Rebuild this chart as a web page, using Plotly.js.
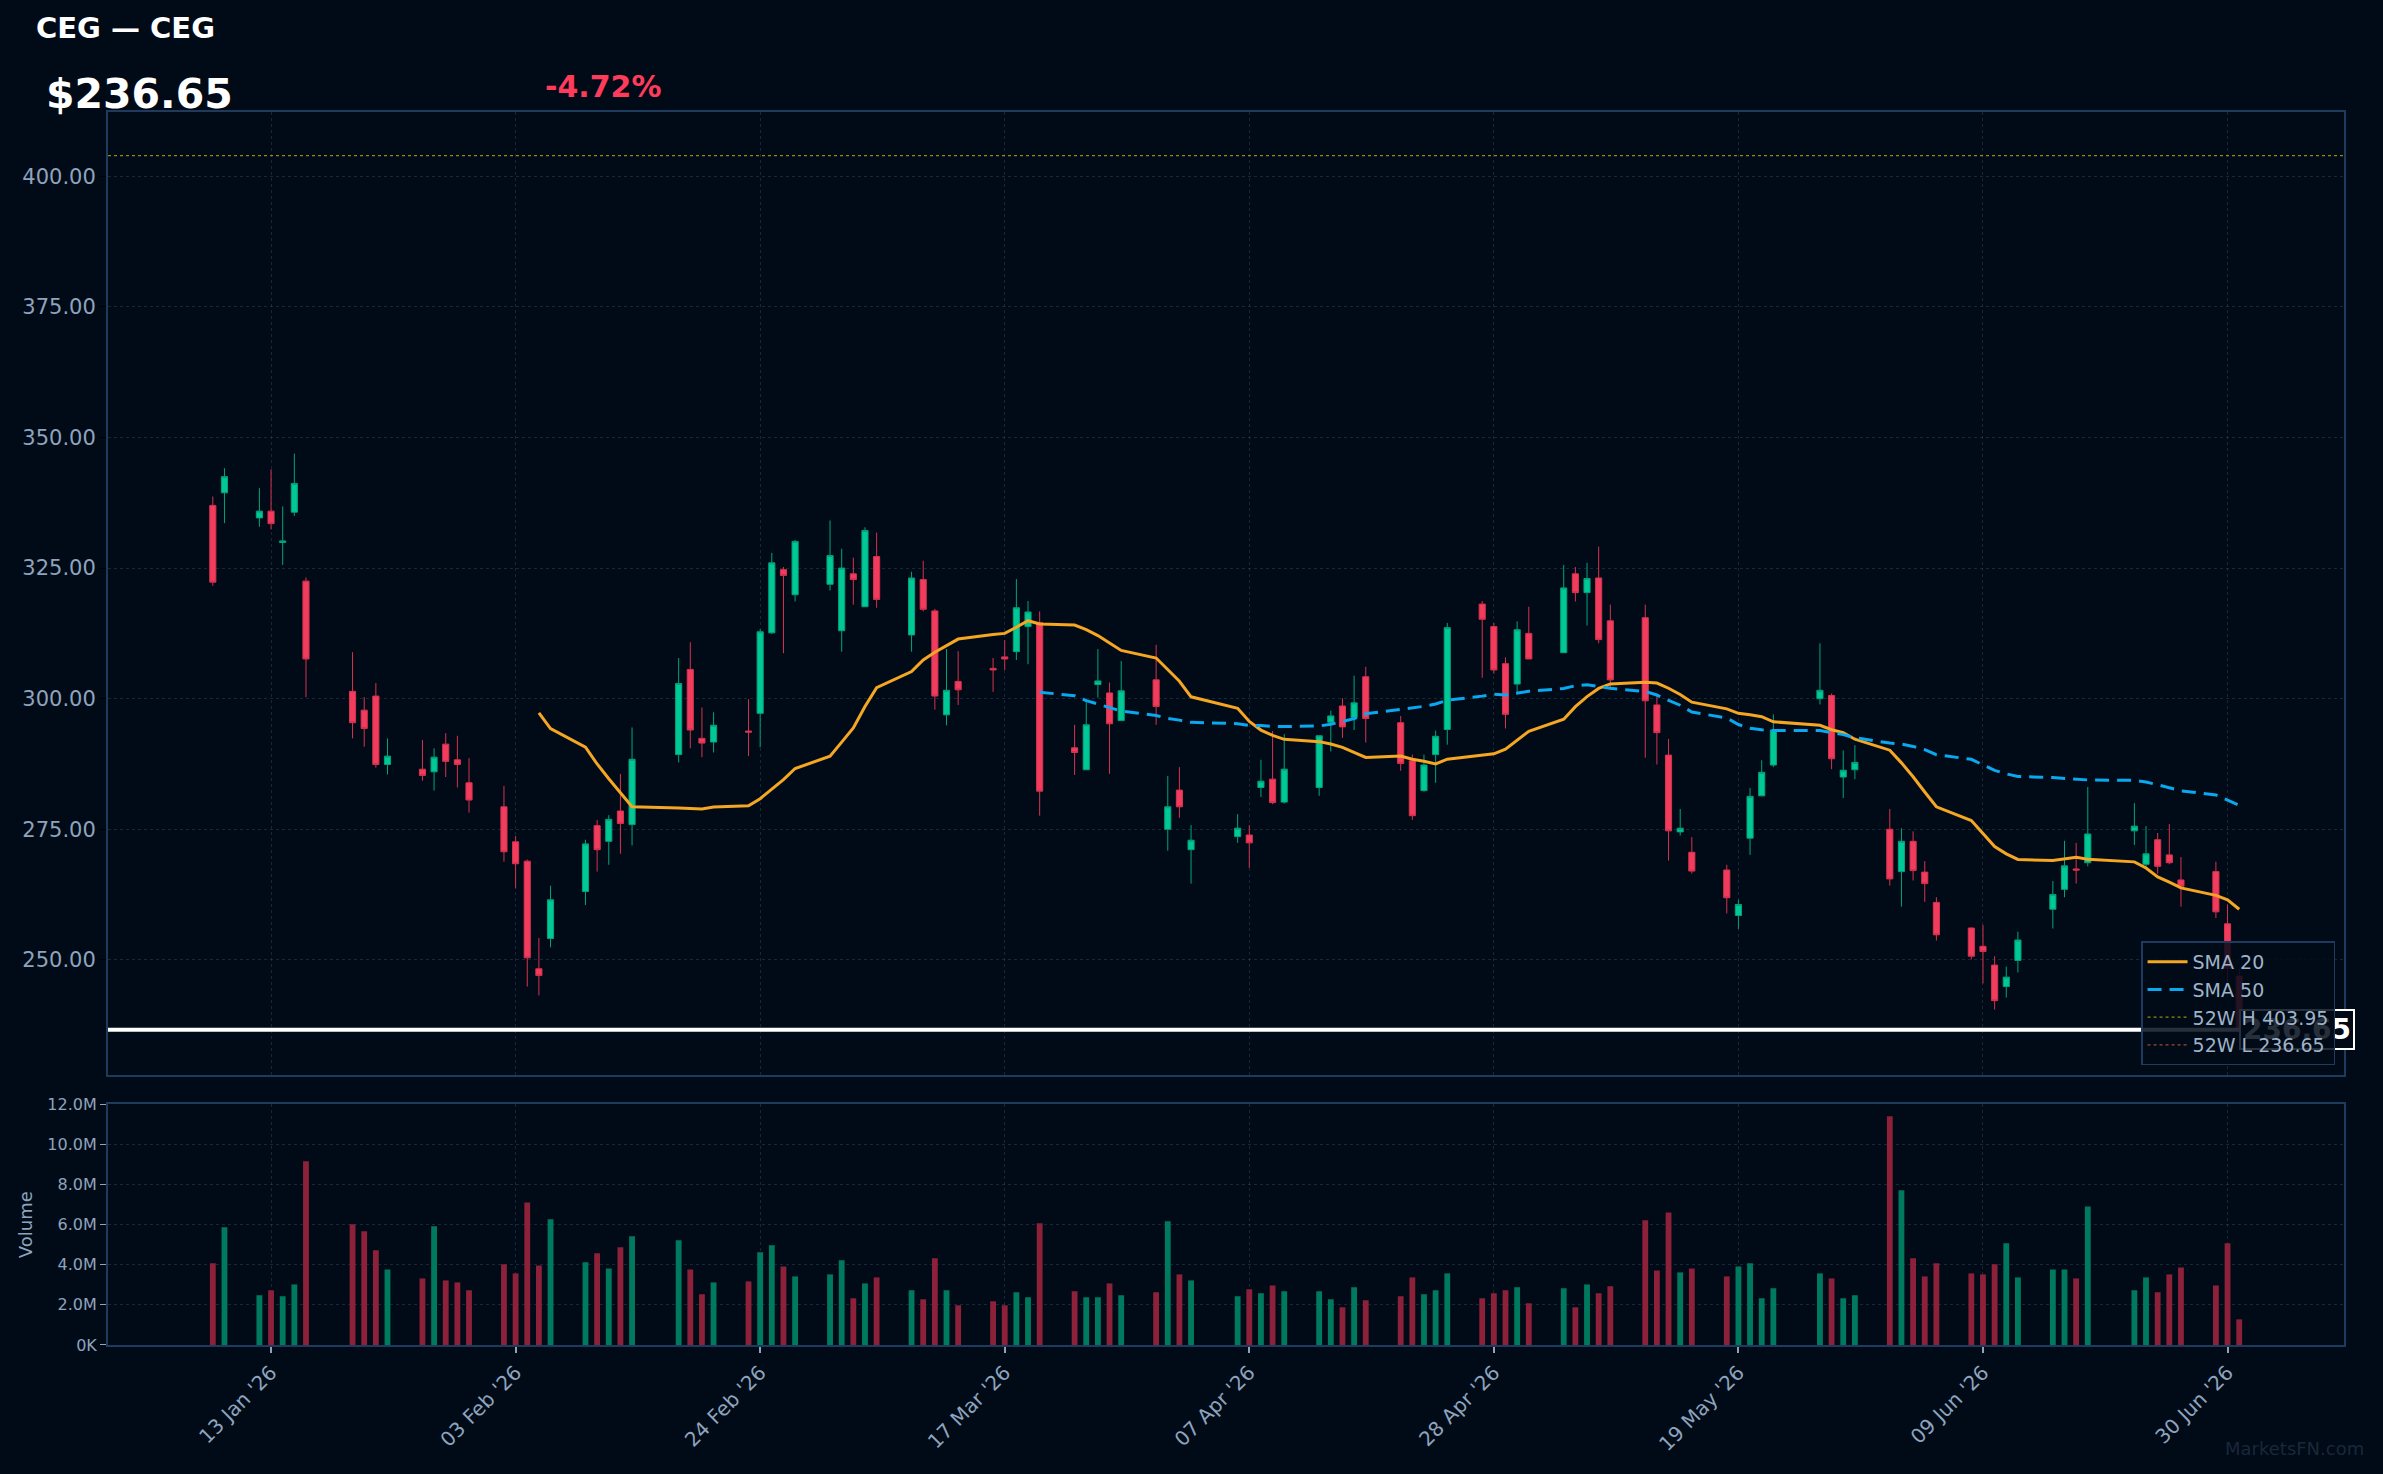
<!DOCTYPE html>
<html><head><meta charset="utf-8">
<script src="https://cdn.plot.ly/plotly-3.0.1.min.js"></script>
<style>html,body{margin:0;padding:0;background:#010b17;}#chart{width:2383px;height:1474px;}</style>
</head><body><div id="chart"></div>
<script>
const dates = [
"2026-01-08","2026-01-09","2026-01-12","2026-01-13","2026-01-14","2026-01-15","2026-01-16","2026-01-20","2026-01-21","2026-01-22","2026-01-23","2026-01-26","2026-01-27","2026-01-28","2026-01-29","2026-01-30",
"2026-02-02","2026-02-03","2026-02-04","2026-02-05","2026-02-06","2026-02-09","2026-02-10","2026-02-11","2026-02-12","2026-02-13","2026-02-17","2026-02-18","2026-02-19","2026-02-20","2026-02-23","2026-02-24","2026-02-25","2026-02-26","2026-02-27",
"2026-03-02","2026-03-03","2026-03-04","2026-03-05","2026-03-06","2026-03-09","2026-03-10","2026-03-11","2026-03-12","2026-03-13","2026-03-16","2026-03-17","2026-03-18","2026-03-19","2026-03-20","2026-03-23","2026-03-24","2026-03-25","2026-03-26","2026-03-27","2026-03-30","2026-03-31",
"2026-04-01","2026-04-02","2026-04-06","2026-04-07","2026-04-08","2026-04-09","2026-04-10","2026-04-13","2026-04-14","2026-04-15","2026-04-16","2026-04-17","2026-04-20","2026-04-21","2026-04-22","2026-04-23","2026-04-24","2026-04-27","2026-04-28","2026-04-29","2026-04-30",
"2026-05-01","2026-05-04","2026-05-05","2026-05-06","2026-05-07","2026-05-08","2026-05-11","2026-05-12","2026-05-13","2026-05-14","2026-05-15","2026-05-18","2026-05-19","2026-05-20","2026-05-21","2026-05-22","2026-05-26","2026-05-27","2026-05-28","2026-05-29",
"2026-06-01","2026-06-02","2026-06-03","2026-06-04","2026-06-05","2026-06-08","2026-06-09","2026-06-10","2026-06-11","2026-06-12","2026-06-15","2026-06-16","2026-06-17","2026-06-18","2026-06-22","2026-06-23","2026-06-24","2026-06-25","2026-06-26","2026-06-29","2026-06-30",
"2026-07-01"];

const opens = [
337.0,339.4,334.6,335.9,329.9,335.7,322.5,301.4,297.8,300.5,287.4,286.5,286.0,291.3,288.3,283.9,
279.3,272.6,268.9,248.3,254.1,263.1,275.7,272.7,278.5,275.9,289.3,305.6,292.4,291.7,293.8,297.2,312.6,324.7,319.9,
321.9,313.0,323.9,317.6,327.2,312.2,322.8,316.8,296.9,303.3,305.8,308.0,309.0,313.8,314.6,290.6,286.4,302.7,301.1,295.8,303.6,275.0,
282.5,271.1,273.6,273.9,283.0,284.6,280.2,283.0,295.5,298.6,296.4,304.2,295.4,288.1,282.4,289.3,294.1,318.1,313.8,306.7,302.8,
312.5,308.8,323.9,320.3,323.1,314.9,315.5,298.8,289.2,274.5,270.6,267.2,258.5,273.3,281.4,287.3,300.0,300.6,285.0,286.4,
275.0,266.9,272.7,266.8,261.0,256.1,252.6,249.0,244.9,249.9,259.7,263.5,267.4,268.6,274.7,268.3,273.0,270.1,265.3,266.9,256.9,
246.9];

const highs = [
338.7,344.1,340.3,343.9,336.8,346.9,323.2,308.9,300.3,303.0,292.4,292.1,290.5,293.4,292.9,288.6,
283.3,273.7,269.2,254.2,264.2,273.0,276.8,277.7,285.6,294.5,307.8,310.8,298.3,297.4,299.9,313.3,327.9,325.2,330.4,
334.1,328.7,327.0,332.8,331.8,324.3,326.4,317.2,309.5,309.1,307.8,311.2,322.9,318.7,316.7,295.0,299.7,309.5,303.1,307.2,310.3,285.2,
286.9,275.8,277.9,275.8,288.3,293.8,293.2,292.9,297.7,300.1,304.4,306.1,296.7,289.3,289.3,293.9,314.5,318.7,314.5,307.9,314.8,
317.6,325.6,325.2,326.0,329.1,318.0,318.0,300.6,292.3,278.9,273.5,268.2,261.5,282.9,288.2,297.0,310.6,301.0,290.1,291.1,
278.9,275.2,274.6,268.9,262.0,256.2,256.7,250.7,248.7,255.4,265.1,272.8,272.4,283.1,280.0,275.6,274.3,276.0,269.7,268.8,260.6,
248.3];

const lows = [
321.6,333.6,332.9,332.4,325.6,335.0,300.3,292.4,290.8,286.8,285.5,284.3,282.4,285.0,283.0,278.2,
268.8,263.7,244.9,243.2,252.4,260.5,266.9,268.2,270.3,271.9,287.8,290.5,288.8,289.7,289.0,290.7,312.4,308.7,318.6,
320.7,309.0,318.0,317.6,317.4,309.0,316.7,297.9,294.9,298.8,301.3,305.5,307.4,306.6,277.6,285.4,286.4,300.2,285.6,295.8,295.0,270.9,
277.2,264.6,272.4,267.6,281.2,279.8,279.9,281.4,289.9,292.5,294.0,291.6,286.2,276.8,282.2,283.9,291.2,304.0,304.8,294.3,300.8,
307.6,308.8,318.6,314.0,310.6,301.7,288.7,287.4,269.0,273.8,266.5,258.9,255.9,270.1,281.4,286.9,298.9,286.5,281.0,284.6,
264.2,260.2,265.2,261.1,253.7,250.1,245.5,240.5,242.8,247.6,256.0,262.0,264.6,267.9,272.0,267.7,266.5,268.3,260.2,258.0,245.6,
236.65];

const closes = [
322.3,342.5,335.9,333.5,330.2,341.2,307.6,295.4,294.3,287.4,289.0,285.3,288.8,288.0,287.4,280.6,
270.7,268.4,250.4,247.0,261.5,272.2,271.1,276.9,276.1,288.4,302.9,294.0,291.5,294.9,293.6,312.8,326.0,323.6,330.1,
327.4,325.0,322.8,332.2,319.0,323.1,317.1,300.5,301.6,301.7,305.5,307.6,317.4,316.6,282.3,289.7,295.0,303.4,295.2,301.5,298.5,279.3,
279.3,272.9,275.2,272.4,284.2,280.1,286.5,292.9,296.7,294.6,299.2,296.2,287.6,277.6,287.3,292.8,313.6,315.2,305.5,297.0,313.2,
307.6,321.2,320.3,323.0,311.3,303.6,299.6,293.5,274.7,275.2,267.0,261.9,260.6,281.3,285.9,294.0,301.6,288.5,286.3,287.8,
265.5,272.7,267.1,264.6,254.8,250.7,251.6,242.2,246.7,253.8,262.5,268.0,267.2,274.1,275.6,270.3,267.9,268.6,264.1,259.2,248.37,
236.65];

const volumes = [
4.07e6,5.87e6,2.48e6,2.73e6,2.43e6,3.02e6,9.16e6,6.02e6,5.67e6,4.72e6,3.77e6,3.32e6,5.92e6,3.22e6,3.12e6,2.73e6,
4.02e6,3.57e6,7.11e6,3.97e6,6.27e6,4.12e6,4.57e6,3.82e6,4.87e6,5.42e6,5.22e6,3.77e6,2.53e6,3.12e6,3.17e6,4.62e6,4.97e6,3.92e6,3.42e6,
3.52e6,4.22e6,2.33e6,3.07e6,3.37e6,2.73e6,2.28e6,4.32e6,2.73e6,1.98e6,2.18e6,1.98e6,2.63e6,2.38e6,6.07e6,2.68e6,2.38e6,2.38e6,3.07e6,2.48e6,2.63e6,6.17e6,
3.52e6,3.22e6,2.43e6,2.78e6,2.58e6,2.97e6,2.68e6,2.68e6,2.28e6,1.88e6,2.88e6,2.23e6,2.43e6,3.37e6,2.53e6,2.73e6,3.57e6,2.33e6,2.58e6,2.73e6,2.88e6,
2.08e6,2.83e6,1.88e6,3.02e6,2.58e6,2.93e6,6.22e6,3.72e6,6.61e6,3.62e6,3.82e6,3.42e6,3.92e6,4.07e6,2.33e6,2.83e6,3.57e6,3.32e6,2.33e6,2.48e6,
11.40e6,7.71e6,4.32e6,3.42e6,4.07e6,3.57e6,3.52e6,4.02e6,5.07e6,3.37e6,3.77e6,3.77e6,3.32e6,6.91e6,2.73e6,3.37e6,2.63e6,3.52e6,3.87e6,2.97e6,5.07e6,
1.28e6];

const ticker = "CEG";
const lastPrice = 236.65;
const changePct = -4.72;
const high52 = 403.95;
const low52 = 236.65;
const xRange = ["2025-12-30", "2026-07-10"];
const priceRange = [227.9, 412.3];
const volTickVals = [0, 2e6, 4e6, 6e6, 8e6, 10e6, 12e6];
const volTickText = ["0K", "2.0M", "4.0M", "6.0M", "8.0M", "10.0M", "12.0M"];

function sma(arr, n) {
  const out = [];
  let s = 0;
  for (let i = 0; i < arr.length; i++) {
    s += arr[i];
    if (i >= n) s -= arr[i - n];
    out.push(i >= n - 1 ? s / n : null);
  }
  return out;
}
const sma20 = sma(closes, 20);
const sma50 = sma(closes, 50);

const BG = "#010b17";
const UP = "#00c896", DOWN = "#f23c5e";
const UP_V = "#007a5e", DOWN_V = "#8c2139";
const GRID = "rgba(70,95,125,0.33)";
const FRAME = "#1e3a5c";
const TXT = "#8ea4be";
const FONT = "DejaVu Sans";

const volColors = closes.map((c, i) => c >= opens[i] ? UP_V : DOWN_V);

const traces = [
  {type: "candlestick", x: dates, open: opens, high: highs, low: lows, close: closes,
   xaxis: "x", yaxis: "y", showlegend: false, hoverinfo: "skip", whiskerwidth: 0,
   increasing: {line: {color: "#00a47c", width: 1}, fillcolor: UP},
   decreasing: {line: {color: "#d8324f", width: 1}, fillcolor: DOWN}},
  {type: "scatter", mode: "lines", x: dates, y: sma20, name: "SMA 20",
   line: {color: "#f5a623", width: 3}, xaxis: "x", yaxis: "y", hoverinfo: "skip"},
  {type: "scatter", mode: "lines", x: dates, y: sma50, name: "SMA 50",
   line: {color: "#0aa8ee", width: 3, dash: "14px,8px"}, xaxis: "x", yaxis: "y", hoverinfo: "skip"},
  {type: "scatter", mode: "lines", x: xRange, y: [high52, high52], name: "52W H " + high52.toFixed(2),
   line: {color: "rgba(190,170,0,0.8)", width: 1.2, dash: "dot"}, xaxis: "x", yaxis: "y", hoverinfo: "skip"},
  {type: "scatter", mode: "lines", x: xRange, y: [low52, low52], name: "52W L " + low52.toFixed(2),
   line: {color: "rgba(200,90,60,0.8)", width: 1.2, dash: "dot"}, xaxis: "x", yaxis: "y", hoverinfo: "skip"},
  {type: "bar", x: dates, y: volumes, marker: {color: volColors, line: {width: 0}},
   width: 0.5 * 86400000, xaxis: "x2", yaxis: "y2", showlegend: false, hoverinfo: "skip"}
];

const xCommon = {
  type: "date", range: xRange, showgrid: true, gridcolor: GRID, griddash: "dot", gridwidth: 1,
  tick0: "2026-01-13", dtick: 21 * 86400000, zeroline: false,
  showline: true, mirror: true, linecolor: FRAME, linewidth: 2,
  rangeslider: {visible: false}
};

const layout = {
  width: 2383, height: 1474,
  paper_bgcolor: BG, plot_bgcolor: BG,
  font: {family: FONT, color: TXT, size: 19},
  margin: {l: 108, r: 39, t: 112, b: 129, pad: 0},
  showlegend: true,
  boxgroupgap: 0.25,
  title: {text: ticker + " — " + ticker, font: {family: FONT, size: 29, color: "#ffffff", weight: "bold"},
          xref: "container", yref: "container", x: 36 / 2383, xanchor: "left", y: 1 - 28 / 1474, yanchor: "middle"},
  xaxis: Object.assign({}, xCommon, {anchor: "y", showticklabels: false, ticks: ""}),
  xaxis2: Object.assign({}, xCommon, {anchor: "y2", matches: "x", showticklabels: true,
    tickformat: "%d %b '%y", tickangle: -45, ticks: "outside", ticklen: 6, tickwidth: 2, tickcolor: TXT,
    tickfont: {family: FONT, size: 20, color: TXT}}),
  yaxis: {domain: [0.2187, 1], range: priceRange, tick0: 0, dtick: 25, tickformat: ".2f",
    showgrid: true, gridcolor: GRID, griddash: "dot", zeroline: false,
    showline: true, mirror: true, linecolor: FRAME, linewidth: 2,
    ticks: "outside", ticklen: 6, tickcolor: "#000000", tickfont: {family: FONT, size: 21, color: TXT}},
  yaxis2: {domain: [0, 0.1952], range: [0, 12e6], tickvals: volTickVals, ticktext: volTickText,
    showgrid: true, gridcolor: GRID, griddash: "dot", zeroline: false,
    showline: true, mirror: true, linecolor: FRAME, linewidth: 2,
    ticks: "outside", ticklen: 6, tickcolor: TXT, tickfont: {family: FONT, size: 16, color: TXT},
    title: {text: "Volume", font: {family: FONT, size: 18, color: TXT}, standoff: 10}},
  legend: {x: 0.996, y: 0.2268, xanchor: "right", yanchor: "bottom",
    bgcolor: "rgba(1,11,23,0.85)", bordercolor: FRAME, borderwidth: 1.5,
    font: {family: FONT, size: 19, color: "#9fb3c8"}, itemwidth: 40, tracegroupgap: 0},
  shapes: [
    {type: "line", xref: "x", yref: "y", x0: xRange[0], x1: dates[dates.length - 1],
     y0: lastPrice, y1: lastPrice, line: {color: "#ffffff", width: 4}, layer: "above"}
  ],
  annotations: [
    {xref: "paper", yref: "paper", x: -0.0285, y: 1.015, xanchor: "left", yanchor: "middle",
     text: "<b>$" + lastPrice.toFixed(2) + "</b>", showarrow: false,
     font: {family: FONT, size: 41, color: "#ffffff"}},
    {xref: "paper", yref: "paper", x: 0.1947, y: 1.0203, xanchor: "left", yanchor: "middle",
     text: "<b>" + changePct.toFixed(2) + "%</b>", showarrow: false,
     font: {family: FONT, size: 30, color: "#ff3b5c"}},
    {xref: "x", yref: "y", x: dates[dates.length - 1], y: lastPrice, xanchor: "left", yanchor: "middle",
     text: "<b>" + lastPrice.toFixed(2) + "</b>", showarrow: false, xshift: 0,
     font: {family: FONT, size: 28, color: "#ffffff"}, bgcolor: BG, bordercolor: "#ffffff", borderwidth: 2, borderpad: 2},
    {xref: "paper", yref: "paper", x: 1.0099, y: -0.0838, xanchor: "right", yanchor: "middle",
     text: "MarketsFN.com", showarrow: false, font: {family: FONT, size: 18, color: "#18283a"}}
  ]
};

const gd = document.getElementById("chart");
Plotly.newPlot(gd, traces, layout, {displayModeBar: false, staticPlot: true}).then(() => {
  // draw the legend above the last-price label, as in the reference
  const lg = gd.querySelector("g.legend");
  let label = null;
  gd.querySelectorAll("g.annotation").forEach(a => {
    if (a.textContent.trim() === lastPrice.toFixed(2)) label = a;
  });
  if (lg && label && lg.parentNode) {
    lg.parentNode.insertBefore(label, lg);
  }
});
</script></body></html>
